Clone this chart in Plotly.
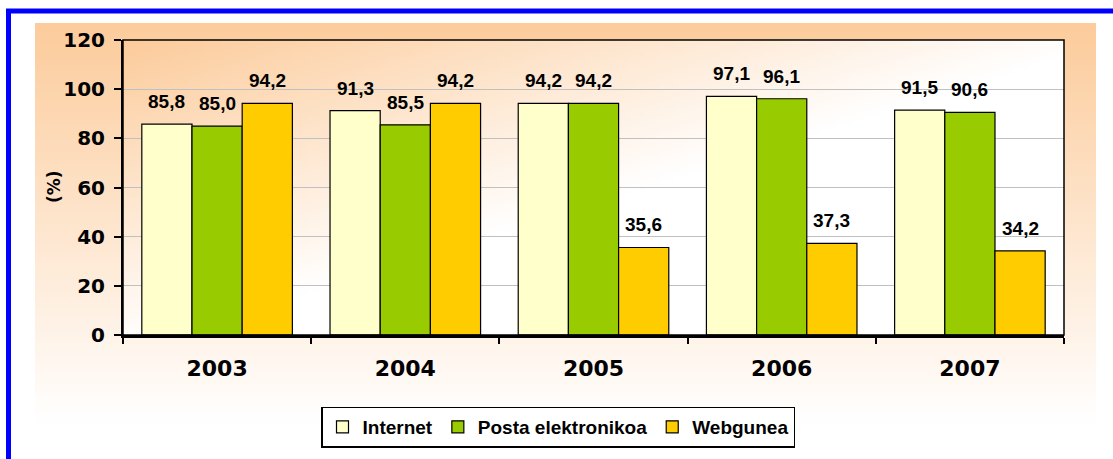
import base64, struct, zlib
import plotly.graph_objects as go

years = ["2003", "2004", "2005", "2006", "2007"]
internet = [85.8, 91.3, 94.2, 97.1, 91.5]
posta = [85.0, 85.5, 94.2, 96.1, 90.6]
webgunea = [94.2, 94.2, 35.6, 37.3, 34.2]
series_names = ["Internet", "Posta elektronikoa", "Webgunea"]
series_colors = ["#FFFFCC", "#99CC00", "#FFCC00"]
y_ticks = [0, 20, 40, 60, 80, 100, 120]
y_title = "(%)"

W, H = 1113, 459
ML, MR, MT, MB = 123, 49, 40, 124
PW, PH = W - ML - MR, H - MT - MB


def px_x(p):
    return (p - ML) / PW


def px_y(p):
    return (H - MB - p) / PH


def png_uri(w, h, fn):
    raw = b""
    for j in range(h):
        row = bytearray([0])
        for i in range(w):
            row += bytes(fn(i / (w - 1), j / (h - 1)))
        raw += bytes(row)

    def chunk(t, d):
        c = struct.pack(">I", len(d)) + t + d
        return c + struct.pack(">I", zlib.crc32(t + d) & 0xFFFFFFFF)

    png = b"\x89PNG\r\n\x1a\n" + chunk(b"IHDR", struct.pack(">IIBBBBB", w, h, 8, 2, 0, 0, 0))
    png += chunk(b"IDAT", zlib.compress(raw)) + chunk(b"IEND", b"")
    return "data:image/png;base64," + base64.b64encode(png).decode()


PEACH = (252, 204, 156)


def mix(t):
    t = max(0.0, min(1.0, t))
    return tuple(int(round(PEACH[k] + (255 - PEACH[k]) * t)) for k in range(3))


outer_img = png_uri(8, 64, lambda u, v: mix(v / 0.95))
inner_img = png_uri(64, 64, lambda u, v: mix((u + v) / 1.05))

fig = go.Figure()
for name, vals, col in zip(series_names, [internet, posta, webgunea], series_colors):
    fig.add_trace(go.Bar(
        x=years, y=vals, name=name, hoverinfo="skip",
        marker=dict(color=col, line=dict(color="black", width=1.2)),
    ))

bargap = 0.2
bar_w = PW / len(years) * (1 - bargap) / 3
for k, vals in enumerate([internet, posta, webgunea]):
    for i, v in enumerate(vals):
        fig.add_annotation(
            x=i, y=v, xref="x", yref="y",
            text=f"{v:.1f}".replace(".", ","),
            showarrow=False, yanchor="bottom", xanchor="center",
            xshift=(k - 1) * bar_w, yshift=10,
            font=dict(family="Liberation Sans, Arial", size=19, color="black", weight="bold"),
        )

fig.add_annotation(
    x=px_x(54), y=px_y(187), xref="paper", yref="paper", text=y_title,
    showarrow=False, textangle=-90, xanchor="center", yanchor="middle",
    font=dict(family="DejaVu Sans", size=17, color="black", weight="bold"),
)

fig.update_layout(
    width=W, height=H,
    margin=dict(l=ML, r=MR, t=MT, b=MB),
    paper_bgcolor="white",
    plot_bgcolor="rgba(0,0,0,0)",
    barmode="group", bargap=bargap, bargroupgap=0,
    showlegend=True,
    legend=dict(
        orientation="h", x=px_x(558), y=px_y(427), xanchor="center", yanchor="middle",
        bgcolor="white", bordercolor="black", borderwidth=1.5,
        font=dict(family="Liberation Sans, Arial", size=19, color="black", weight="bold"),
        itemclick=False, itemdoubleclick=False,
    ),
    xaxis=dict(
        type="category", range=[-0.5, len(years) - 0.5], autorange=False,
        showgrid=False, ticks="outside", tickson="boundaries",
        ticklen=6, tickwidth=1.5, tickcolor="black",
        showline=True, linecolor="black", linewidth=2.5,
        tickfont=dict(family="DejaVu Sans", size=22, color="black", weight="bold"),
        ticklabelstandoff=12, tickangle=0,
    ),
    yaxis=dict(
        range=[0, 120], autorange=False, tickvals=y_ticks, showgrid=True,
        gridcolor="#C0C0C0", gridwidth=1,
        ticks="outside", ticklen=7, tickwidth=1.5, tickcolor="black",
        showline=True, linecolor="black", linewidth=2, zeroline=False,
        tickfont=dict(family="DejaVu Sans", size=20, color="black", weight="bold"),
        ticklabelstandoff=5,
    ),
    images=[
        dict(source=outer_img, xref="paper", yref="paper", x=px_x(35), y=px_y(23),
             sizex=(1096 - 35) / PW, sizey=(447 - 23) / PH, sizing="stretch",
             xanchor="left", yanchor="top", layer="below"),
        dict(source=inner_img, xref="paper", yref="paper", x=0, y=1, sizex=1, sizey=1,
             sizing="stretch", xanchor="left", yanchor="top", layer="below"),
    ],
    shapes=[
        dict(type="rect", xref="paper", yref="paper", x0=0, x1=1, y0=0, y1=1,
             line=dict(color="black", width=1.5), layer="above"),
        dict(type="rect", xref="paper", yref="paper", x0=px_x(8.5), x1=px_x(1140),
             y0=px_y(11), y1=px_y(480), line=dict(color="#0000FF", width=5), layer="above"),
    ],
)

fig.write_html(
    "out.html",
    config={"displayModeBar": False},
    post_script="document.body.style.margin='0';document.body.style.overflow='hidden';",
)
